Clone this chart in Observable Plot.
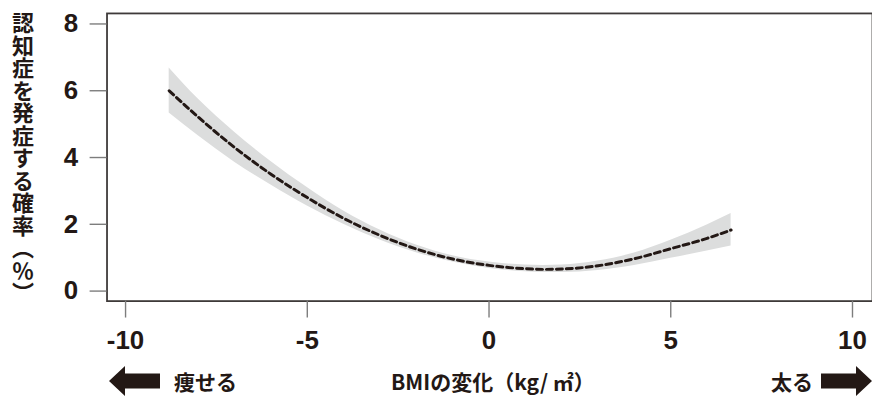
<!DOCTYPE html>
<html>
<head>
<meta charset="utf-8">
<script src="https://cdn.jsdelivr.net/npm/d3@7"></script>
<script src="https://cdn.jsdelivr.net/npm/@observablehq/plot@0.6"></script>
<style>
  html, body { margin: 0; padding: 0; background: #fff; overflow: hidden; }
  #wrap { position: relative; width: 872px; height: 397px; overflow: hidden; }
  #chart { position: absolute; left: 0; top: 0; }
  .ylab {
    position: absolute; left: 12px; top: 12px; width: 22px;
    writing-mode: vertical-rl; text-orientation: upright;
    font-family: "Noto Sans CJK JP", sans-serif; font-weight: 700;
    font-size: 22px; line-height: 22px; letter-spacing: 0.5px; color: #231815;
  }
  .blab {
    position: absolute; font-family: "Noto Sans CJK JP", sans-serif; font-weight: 700;
    font-size: 21px; line-height: 21px; color: #231815; white-space: nowrap;
  }
  .arrow { position: absolute; }
</style>
</head>
<body>
<div id="wrap">
  <div id="chart"></div>
  <div class="ylab" id="ylab"></div>
  <svg class="arrow" style="left:109px; top:366px" width="52" height="30">
    <polygon points="0,15 16,0 16,7.5 51,7.5 51,22.5 16,22.5 16,30" fill="#231815"/>
  </svg>
  <div class="blab" id="leftLab" style="left:174px; top:371px"></div>
  <div class="blab" id="midLab" style="left:391px; top:371px"></div>
  <div class="blab" id="rightLab" style="left:771px; top:371px"></div>
  <svg class="arrow" style="left:821px; top:366px" width="52" height="30">
    <polygon points="51,15 35,0 35,7.5 0,7.5 0,22.5 35,22.5 35,30" fill="#231815"/>
  </svg>
</div>
<script>
// ---- data ----
const bmiChange = [-8.8, -8, -7, -6, -5, -4, -3, -2, -1, 0, 1, 1.5, 2, 3, 4, 5, 6, 6.66];
const riskFit   = [6.00, 5.21, 4.30, 3.50, 2.80, 2.18, 1.67, 1.26, 0.96, 0.77, 0.67, 0.65, 0.66, 0.76, 0.97, 1.27, 1.58, 1.83];
const riskLower = [5.33, 4.65, 3.86, 3.18, 2.55, 2.00, 1.53, 1.15, 0.87, 0.68, 0.58, 0.56, 0.56, 0.62, 0.77, 0.98, 1.20, 1.35];
const riskUpper = [6.68, 5.75, 4.76, 3.88, 3.10, 2.40, 1.83, 1.38, 1.06, 0.87, 0.78, 0.77, 0.78, 0.90, 1.14, 1.52, 1.98, 2.32];
const xTicks = [-10, -5, 0, 5, 10];
const yTicks = [0, 2, 4, 6, 8];
const yTitle = "認知症を発症する確率（％）";
const xTitle = "BMIの変化（kg/ ㎡）";
const leftText = "痩せる";
const rightText = "太る";

const rows = bmiChange.map((x, i) => ({x, fit: riskFit[i], lo: riskLower[i], hi: riskUpper[i]}));

const ink = "#231815";
const plot = Plot.plot({
  width: 876,
  height: 397,
  marginLeft: 107,
  marginRight: 0,
  marginTop: 13,
  marginBottom: 95,
  x: {domain: [-10.51, 10.55]},
  y: {domain: [-0.30, 8.315]},
  style: {background: "#fff", color: ink},
  marks: [
    Plot.areaY(rows, {x: "x", y1: "lo", y2: "hi", fill: "#dcdddd", curve: "monotone-x"}),
    Plot.line(rows, {x: "x", y: "fit", stroke: ink, strokeWidth: 3, strokeDasharray: "6,4", curve: "monotone-x"}),
    Plot.frame({stroke: "#3e3a39", strokeWidth: 1.8}),
    Plot.axisY(yTicks, {
      tickSize: 17, tickPadding: 12, stroke: "#7d7d7d", strokeWidth: 1.4, fill: ink,
      fontSize: 26, fontWeight: 700, fontFamily: "Liberation Sans, Arial, sans-serif",
      label: null, tickFormat: d => String(d)
    }),
    Plot.axisX(xTicks, {
      tickSize: 17, tickPadding: 13, stroke: "#7d7d7d", strokeWidth: 1.4, fill: ink,
      fontSize: 26, fontWeight: 700, fontFamily: "Liberation Sans, Arial, sans-serif",
      label: null, tickFormat: d => String(d)
    })
  ]
});
document.getElementById("chart").appendChild(plot);
document.getElementById("ylab").textContent = yTitle;
document.getElementById("midLab").textContent = xTitle;
document.getElementById("leftLab").textContent = leftText;
document.getElementById("rightLab").textContent = rightText;
</script>
</body>
</html>
